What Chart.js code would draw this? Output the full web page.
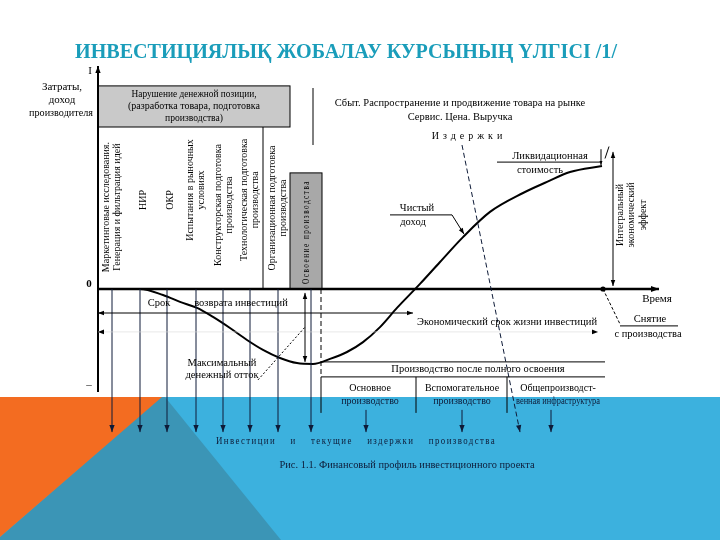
<!DOCTYPE html>
<html><head><meta charset="utf-8">
<script src="https://cdn.jsdelivr.net/npm/chart.js@4/dist/chart.umd.min.js"></script>
<style>html,body{margin:0;padding:0;background:#fff;}canvas{display:block;}</style>
</head><body>
<canvas id="c" width="720" height="540"></canvas>
<script>
// ---- data (time in conventional units, cash flow in conventional money units) ----
const timePoints = [1, 9.4, 14, 17.4, 20.8, 24, 27.4, 30.8, 34, 37.4, 40.8, 44, 47.4, 50.8, 54, 57.4, 60.8, 65.4, 69.4, 74, 79.4, 86, 90.8, 95.4, 101.8];
const cashFlow   = [0, 0, -2, -4.3, -6.3, -9.3, -13, -17, -20.3, -23, -24.7, -25, -23.3, -21, -17.7, -12.7, -6.3, 1.7, 9, 17.3, 25.7, 32, 35.7, 39, 41];
const phaseLabels = [
  ['Маркетинговые исследования.', 'Генерация и фильтрация идей'],
  ['НИР'], ['ОКР'],
  ['Испытания в рыночных', 'условиях'],
  ['Конструкторская подготовка', 'производства'],
  ['Технологическая подготовка', 'производства'],
  ['Организационная подготовка', 'производства'],
  ['Освоение производства']
];
const phaseTimes = [3.8, 9.4, 14.8, 20.6, 26, 31.4, 37, 43.6];
const productionUnits = [['Основное', 'производство'], ['Вспомогательное', 'производство'], ['Общепроизводст-', 'венная инфраструктура']];
const productionTimes = [55.4, 73.8, 93];
const productionArrowTimes = [54.6, 73.8, 91.6];
const startTime = 1;          // начало проекта (ось затрат)
const paybackEnd = 64;        // срок возврата инвестиций
const lifeEnd = 101;          // экономический срок жизни
const withdrawalTime = 102;

// ---- layout (not data) ----
const SERIF = '"Liberation Serif","Times New Roman",serif';
const phaseLevel = [27.3, 29.7, 29.7, 33, 28, 29.7, 27, 19];
const phaseShift = [0, 0.6, 0.6, 0, 0.2, 0, 0, -1];

function txt(ctx, s, x, y, size, o) {
  o = o || {};
  ctx.save();
  ctx.font = (o.bold ? 'bold ' : '') + size + 'px ' + (o.family || SERIF);
  ctx.fillStyle = o.color || '#000';
  ctx.textAlign = o.align || 'center';
  ctx.textBaseline = 'middle';
  if (o.ls) ctx.letterSpacing = o.ls + 'px';
  ctx.translate(x, y);
  if (o.rot) ctx.rotate(o.rot);
  if (o.maxW) ctx.fillText(s, 0, 0, o.maxW); else ctx.fillText(s, 0, 0);
  ctx.restore();
}
function line(ctx, x1, y1, x2, y2, o) {
  o = o || {};
  ctx.save();
  ctx.strokeStyle = o.color || '#000';
  ctx.lineWidth = o.w || 1;
  ctx.setLineDash(o.dash || []);
  ctx.beginPath(); ctx.moveTo(x1, y1); ctx.lineTo(x2, y2); ctx.stroke();
  ctx.restore();
}
function head(ctx, x, y, ang, size, color) {
  size = size || 6;
  ctx.save();
  ctx.fillStyle = color || '#000';
  ctx.translate(x, y); ctx.rotate(ang);
  ctx.beginPath(); ctx.moveTo(0, 0); ctx.lineTo(-size, -size * 0.38); ctx.lineTo(-size, size * 0.38); ctx.closePath(); ctx.fill();
  ctx.restore();
}
function arrow(ctx, x1, y1, x2, y2, o) {
  o = o || {};
  line(ctx, x1, y1, x2, y2, o);
  const a = Math.atan2(y2 - y1, x2 - x1);
  head(ctx, x2, y2, a, o.hs || 6, o.color);
  if (o.both) head(ctx, x1, y1, a + Math.PI, o.hs || 6, o.color);
}

const diagram = {
  id: 'diagram',
  beforeDraw(chart) {
    const c = chart.ctx;
    c.save();
    c.fillStyle = '#ffffff'; c.fillRect(0, 0, 720, 540);
    c.fillStyle = '#3cb1de'; c.fillRect(0, 397, 720, 143);
    c.fillStyle = '#3b95b6';
    c.beginPath(); c.moveTo(161, 397); c.lineTo(165, 397); c.lineTo(281, 540); c.lineTo(0, 540); c.lineTo(0, 537); c.closePath(); c.fill();
    c.fillStyle = '#f36c21';
    c.beginPath(); c.moveTo(0, 397); c.lineTo(162, 397); c.lineTo(0, 537); c.closePath(); c.fill();
    c.restore();
    txt(c, 'ИНВЕСТИЦИЯЛЫҚ ЖОБАЛАУ КУРСЫНЫҢ ҮЛГІСІ /1/', 346, 53, 21, { bold: true, color: '#1a9dba', maxW: 542 });
  },
  beforeDatasetsDraw(chart) {
    const c = chart.ctx, xs = chart.scales.x, ys = chart.scales.y;
    const X = t => xs.getPixelForValue(t), Y = v => ys.getPixelForValue(v);
    const s = startTime;
    c.save();
    c.fillStyle = '#c9c9c9'; c.fillRect(X(s), Y(67.7), X(39.4) - X(s), Y(54) - Y(67.7));
    c.strokeStyle = '#000'; c.lineWidth = 1; c.strokeRect(X(s), Y(67.7), X(39.4) - X(s), Y(54) - Y(67.7));
    c.fillStyle = '#a8a8a8'; c.fillRect(X(39.4), Y(38.7), X(45.8) - X(39.4), Y(0) - Y(38.7));
    c.strokeRect(X(39.4), Y(38.7), X(45.8) - X(39.4), Y(0) - Y(38.7));
    c.restore();
    line(c, X(34), Y(54), X(34), Y(0));
    line(c, X(44), Y(67), X(44), Y(48));
    arrow(c, X(s), Y(-34.3), X(s), Y(74.3), { w: 2, hs: 7 });
    arrow(c, X(s), Y(0), X(113.2), Y(0), { w: 2.5, hs: 8 });
  },
  afterDatasetsDraw(chart) {
    const c = chart.ctx, xs = chart.scales.x, ys = chart.scales.y;
    const X = t => xs.getPixelForValue(t), Y = v => ys.getPixelForValue(v);
    const s = startTime;
    const navy = '#0e1b38';
    txt(c, 'I', X(s) - 8, Y(72.5), 11);
    txt(c, '0', X(s) - 9, Y(1.6), 11, { bold: true });
    txt(c, '–', X(s) - 9, Y(-32), 11);
    txt(c, 'Затраты,', 62, 87, 11);
    txt(c, 'доход', 62, 100, 11);
    txt(c, 'производителя', 61, 113, 11, { maxW: 64 });
    txt(c, 'Нарушение денежной позиции,', X(20.2), Y(65), 10.5, { maxW: 125 });
    txt(c, '(разработка товара, подготовка', X(20.2), Y(61), 10.5, { maxW: 132 });
    txt(c, 'производства)', X(20.2), Y(57), 10.5, { maxW: 58 });
    phaseLabels.forEach((ls, i) => {
      const n = ls.length;
      ls.forEach((str, j) => {
        const dx = (j - (n - 1) / 2) * 10.5;
        const isLast = i === phaseLabels.length - 1;
        txt(c, str, X(phaseTimes[i] + phaseShift[i]) + dx, Y(phaseLevel[i]), isLast ? 9.5 : 10,
          { rot: -Math.PI / 2, maxW: isLast ? 104 : 150, ls: isLast ? 2 : 0 });
      });
    });
    phaseTimes.forEach(t => arrow(c, X(t), Y(0), X(t), Y(-47.7), { color: navy, hs: 7 }));
    txt(c, 'Сбыт. Распространение и продвижение товара на рынке', X(73.4), Y(62), 10.5, { maxW: 252 });
    txt(c, 'Сервис. Цена. Выручка', X(73.4), Y(57.3), 10.5);
    txt(c, 'Издержки', X(75.2), Y(51), 10, { ls: 4 });
    arrow(c, X(73.8), Y(48), X(85.4), Y(-47.7), { dash: [5, 3], color: navy, hs: 7 });
    txt(c, 'Ликвидационная', X(91.4), Y(44.3), 10.5);
    line(c, X(80.8), Y(42.3), X(101.4), Y(42.3));
    txt(c, 'стоимость', X(89.4), Y(39.7), 10.5);
    arrow(c, X(101.6), Y(46.6), X(101.6), Y(41.3), { hs: 4 });
    line(c, X(102.4), Y(43.5), X(103.2), Y(47.5));
    txt(c, 'Чистый', X(64.8), Y(27), 10.5);
    line(c, X(59.4), Y(24.7), X(71.8), Y(24.7));
    txt(c, 'доход', X(64), Y(22.3), 10.5);
    arrow(c, X(71.8), Y(24.7), X(74.2), Y(18.3), { hs: 6 });
    arrow(c, X(104), Y(45.7), X(104), Y(1), { both: true, hs: 6 });
    ['Интегральный', 'экономический', 'эффект'].forEach((str, j) =>
      txt(c, str, X(105.4) + j * 11.5, Y(24.7), 10, { rot: -Math.PI / 2 }));
    txt(c, 'Время', X(112.8), Y(-3.3), 11);
    c.save(); c.fillStyle = '#000'; c.beginPath(); c.arc(X(withdrawalTime), Y(0), 2.6, 0, Math.PI * 2); c.fill(); c.restore();
    line(c, X(withdrawalTime), Y(0), X(105.4), Y(-11.7), { dash: [3, 2] });
    line(c, X(105.4), Y(-12.3), X(117), Y(-12.3));
    txt(c, 'Снятие', X(111.4), Y(-10), 10.5);
    txt(c, 'с производства', X(111), Y(-15), 10.5);
    arrow(c, X(s), Y(-8), X(paybackEnd), Y(-8), { both: true, hs: 6 });
    txt(c, 'Срок', X(13.2), Y(-4.7), 10.5);
    txt(c, 'возврата инвестиций', X(29.6), Y(-4.7), 10.5, { maxW: 95 });
    line(c, X(s), Y(-14.3), X(lifeEnd), Y(-14.3), { color: '#d8d8d8', w: 0.6 });
    head(c, X(s), Y(-14.3), Math.PI, 6);
    head(c, X(lifeEnd), Y(-14.3), 0, 6);
    txt(c, 'Экономический срок жизни инвестиций', X(82.8), Y(-11), 10.5, { maxW: 182 });
    arrow(c, X(42.4), Y(-1.3), X(42.4), Y(-24.3), { both: true, hs: 6 });
    txt(c, 'Максимальный', X(25.8), Y(-24.7), 10.5);
    txt(c, 'денежный отток', X(25.8), Y(-28.7), 10.5);
    line(c, X(33), Y(-30.3), X(42.4), Y(-12.7), { dash: [2, 2] });
    line(c, X(45.6), Y(0), X(45.6), Y(-29.3), { dash: [5, 3] });
    line(c, X(45.6), Y(-29.3), X(45.6), Y(-41.3));
    line(c, X(45.6), Y(-24.3), X(102.4), Y(-24.3));
    line(c, X(45.6), Y(-29.3), X(102.4), Y(-29.3));
    txt(c, 'Производство после полного освоения', X(77), Y(-26.7), 10.5, { maxW: 180 });
    line(c, X(64.6), Y(-29.3), X(64.6), Y(-41.3));
    line(c, X(82.8), Y(-29.3), X(82.8), Y(-41.3));
    productionUnits.forEach((ls, i) => {
      txt(c, ls[0], X(productionTimes[i]), Y(-33), 10, { maxW: 82 });
      txt(c, ls[1], X(productionTimes[i]), Y(-37.3), 10, { maxW: 84, color: navy });
    });
    productionArrowTimes.forEach(t => arrow(c, X(t), Y(-40.3), X(t), Y(-47.7), { color: navy, hs: 7 }));
    txt(c, 'Инвестиции    и    текущие    издержки    производства', 356, 441, 9.5, { color: navy, ls: 1.5, maxW: 280 });
    txt(c, 'Рис. 1.1. Финансовый профиль инвестиционного проекта', 407, 465, 10.5, { color: navy, maxW: 255 });
  }
};

new Chart(document.getElementById('c'), {
  type: 'line',
  data: {
    datasets: [{
      label: 'Денежный поток',
      data: timePoints.map((t, i) => ({ x: t, y: cashFlow[i] })),
      borderColor: '#000',
      borderWidth: 2,
      pointRadius: 0,
      fill: false,
      cubicInterpolationMode: 'monotone'
    }]
  },
  options: {
    responsive: false,
    animation: false,
    layout: { padding: { left: 93, right: 52, top: 64, bottom: 146 } },
    scales: {
      x: { type: 'linear', min: 0, max: 115, display: false },
      y: { type: 'linear', min: -35, max: 75, display: false }
    },
    plugins: { legend: { display: false }, tooltip: { enabled: false }, title: { display: false } }
  },
  plugins: [diagram]
});
</script>
</body></html>
